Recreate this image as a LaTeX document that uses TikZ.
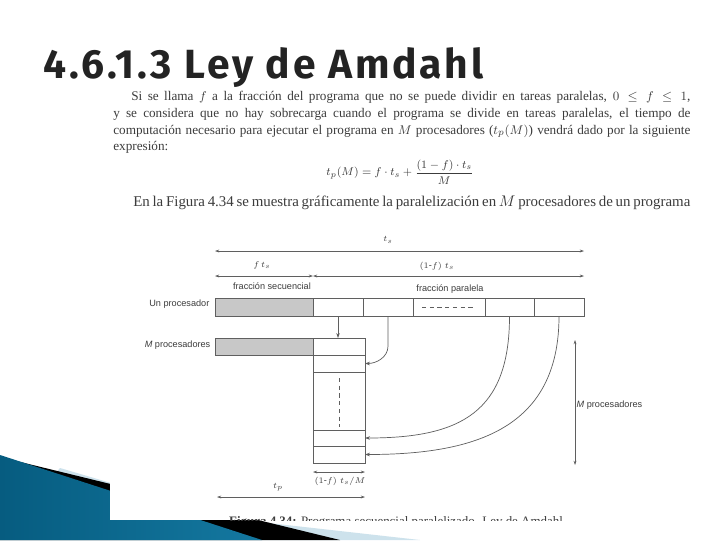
\documentclass[tikz,border=0pt]{standalone}
\usepackage{amsmath,amssymb}
\usepackage{fontspec}
\setmainfont{Liberation Serif}
\setsansfont{Liberation Sans}
\newfontfamily\titlefont[LetterSpace=7]{Fira Sans}
\usetikzlibrary{arrows.meta,positioning,calc}
\definecolor{scangray}{RGB}{60,60,60}
\definecolor{linegray}{RGB}{95,95,95}
\definecolor{seqfill}{RGB}{200,200,200}
\definecolor{titleink}{RGB}{35,35,35}
\definecolor{tealdark}{RGB}{6,92,128}
\definecolor{teallight}{RGB}{62,164,202}
\definecolor{tealmid}{RGB}{20,120,160}
\definecolor{paleblue}{RGB}{205,226,236}

\tikzset{
  scantext/.style={scangray,font=\fontsize{9.4}{11}\selectfont,anchor=base west,inner sep=0pt},
  figlabel/.style={scangray,font=\sffamily\fontsize{6.5}{7}\selectfont,inner sep=1pt},
  cell/.style={draw=linegray,line width=0.5pt,inner sep=0pt,outer sep=0pt,anchor=north west},
  seqcell/.style={cell,fill=seqfill},
  dimline/.style={linegray,line width=0.4pt,{Stealth[length=3pt,width=2pt]}-{Stealth[length=3pt,width=2pt]}},
  feed/.style={linegray,line width=0.5pt,-{Stealth[length=3.5pt,width=2.5pt]}}
}

\begin{document}
\begin{tikzpicture}[x=0.025cm,y=-0.025cm]
  \useasboundingbox (0,0) rectangle (720,540);
  \fill[white] (0,0) rectangle (720,540);
  % corner band
  \fill[paleblue] (60,468) -- (233,519) -- (420,540) -- (0,540) -- cycle;
  \fill[black] (0,457) -- (340,540) -- (0,540) -- cycle;
  \shade[left color=tealdark,middle color=teallight,right color=tealmid]
    (0,455) -- (262,540) -- (0,540) -- cycle;
  \fill[white] (110,84) rectangle (700,520);

  \node[anchor=base west,inner sep=0pt,titleink,font=\titlefont\bfseries\fontsize{29}{32}\selectfont]
    (title) at (43,78) {4.6.1.3 Ley de Amdahl};

  \node[scantext] (line1) at (131,100) {\makebox[13.975cm][s]{Si se llama $f$ a la fracción del programa que no se puede dividir en tareas paralelas, $0 \leq f \leq 1$,}};
  \node[scantext] (line2) at (113,117) {\makebox[14.425cm][s]{y se considera que no hay sobrecarga cuando el programa se divide en tareas paralelas, el tiempo de}};
  \node[scantext] (line3) at (113,134) {\makebox[14.425cm][s]{computación necesario para ejecutar el programa en $M$ procesadores ($t_p(M)$) vendrá dado por la siguiente}};
  \node[scantext] (line4) at (113,150) {expresión:};
  \node[scantext,anchor=center,font=\fontsize{8.2}{10}\selectfont] (eq) at (400,172) {$t_p(M) = f\cdot t_s + \dfrac{(1-f)\cdot t_s}{M}$};
  \node[scantext,font=\fontsize{10.6}{12}\selectfont] (line5) at (133,206) {\makebox[13.925cm][s]{En la Figura 4.34 se muestra gráficamente la paralelización en $M$ procesadores de un programa}};

  \node[seqcell,minimum width=2.45cm,minimum height=0.45cm] (seq1) at (215,298) {};
  \node[cell,minimum width=1.25cm,minimum height=0.45cm] (p1) at (313,298) {};
  \node[cell,minimum width=1.25cm,minimum height=0.45cm] (p2) at (363,298) {};
  \node[cell,minimum width=1.8cm,minimum height=0.45cm] (p3) at (413,298) {};
  \node[cell,minimum width=1.225cm,minimum height=0.45cm] (p4) at (485,298) {};
  \node[cell,minimum width=1.25cm,minimum height=0.45cm] (p5) at (534,298) {};
  \draw[linegray,line width=0.4pt,dash pattern=on 3pt off 2.5pt]
    ($(p3.center)+(-27,0)$) -- ($(p3.center)+(27,0)$);

  \node[seqcell,minimum width=2.45cm,minimum height=0.425cm] (seq2) at (215,338) {};
  \node[cell,minimum width=1.3cm,minimum height=0.425cm] (c1) at (313,338) {};
  \node[cell,minimum width=1.3cm,minimum height=0.425cm] (c2) at (313,355) {};
  \node[cell,minimum width=1.3cm,minimum height=1.45cm] (c3) at (313,372) {};
  \node[cell,minimum width=1.3cm,minimum height=0.4cm] (c4) at (313,430) {};
  \node[cell,minimum width=1.3cm,minimum height=0.425cm] (c5) at (313,446) {};
  \draw[linegray,line width=0.4pt,dash pattern=on 3pt off 2.5pt]
    ($(c3.north)+(0,6)$) -- ($(c3.south)+(0,-3)$);

  \node[figlabel,anchor=east] (unlab) at (211,304) {Un procesador};
  \node[figlabel,anchor=east] (mlab) at (212,345) {\textit{M} procesadores};
  \node[figlabel] (seqlab) at (272,286) {fracción secuencial};
  \node[figlabel] (parlab) at (450,289) {fracción paralela};

  \coordinate (tsL) at (215,251);
  \coordinate (tsR) at (584,251);
  \coordinate (fL) at (215,276);
  \coordinate (fM) at (313,276);
  \coordinate (fR) at (584,276);
  \coordinate (cwL) at (313,472);
  \coordinate (cwR) at (365,472);
  \coordinate (tpL) at (217,497);
  \coordinate (tpR) at (365,497);
  \coordinate (mT) at (575,340);
  \coordinate (mB) at (575,465);

  \draw[dimline] (tsL) -- (tsR);
  \node[figlabel] (tslab) at (388,240) {$t_s$};
  \draw[dimline] (fL) -- (fM);
  \draw[dimline] (fM) -- (fR);
  \node[figlabel] (ftslab) at (262,265) {$f\,t_s$};
  \node[figlabel] (ptslab) at (437,266) {$(1\text{-}f)\;t_s$};
  \draw[dimline] (cwL) -- (cwR);
  \node[figlabel] (cwlab) at (340,481) {$(1\text{-}f)\;t_s/M$};
  \draw[dimline] (tpL) -- (tpR);
  \node[figlabel] (tplab) at (278,487) {$t_p$};
  \draw[dimline] (mT) -- node[figlabel,right,pos=0.52] (mright) {\textit{M} procesadores} (mB);

  \draw[feed] (p1.south) -- (p1.south |- c1.north);
  \draw[feed] (p2.south) -- ++(0,30) to[out=-90,in=0] (c2.east);
  \draw[feed] (p4.south) to[out=-90,in=0,looseness=1.3] (c4.east);
  \draw[feed] (p5.south) to[out=-90,in=0,looseness=1.2] (c5.east);

  \begin{scope}
    \clip (110,84) rectangle (700,520);
    \node[scantext,anchor=base,font=\fontsize{9.2}{11}\selectfont] (caption) at (396,525)
      {\textbf{Figura 4.34:} Programa secuencial paralelizado. Ley de Amdahl};
  \end{scope}
\end{tikzpicture}
\end{document}
